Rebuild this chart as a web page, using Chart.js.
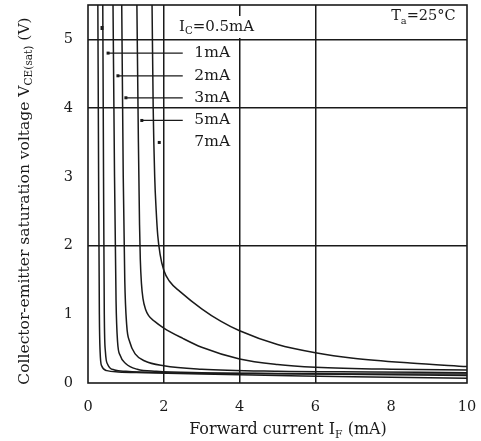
<!DOCTYPE html>
<html>
<head>
<meta charset="utf-8">
<script src="https://cdn.jsdelivr.net/npm/chart.js@4.4.0/dist/chart.umd.min.js"></script>
<style>
html, body { margin: 0; padding: 0; background: #fff; }
#wrap { width: 481px; height: 441px; }
</style>
</head>
<body>
<div id="wrap"><canvas id="c"></canvas></div>
<script>
// axes
const xTicks = [0, 2, 4, 6, 8, 10];
const yTicks = [0, 1, 2, 3, 4, 5];
const xGrid = [2, 4, 6];
const yGrid = [2, 4, 5];

// curves (IF in mA, VCE(sat) in V)
const ic05X = [0.26, 0.28, 0.30, 0.32, 0.36, 0.50, 0.80, 1.5, 3, 5, 7, 10];
const ic05Y = [5.5, 3.0, 1.0, 0.45, 0.25, 0.18, 0.16, 0.15, 0.13, 0.11, 0.09, 0.07];
const ic1X = [0.39, 0.41, 0.43, 0.46, 0.52, 0.70, 1.0, 2, 4, 6, 8, 10];
const ic1Y = [5.5, 3.0, 1.0, 0.45, 0.27, 0.19, 0.17, 0.15, 0.14, 0.13, 0.12, 0.11];
const ic2X = [0.66, 0.70, 0.74, 0.78, 0.85, 1.0, 1.3, 1.8, 3, 5, 7.5, 10];
const ic2Y = [5.5, 3.0, 1.2, 0.6, 0.4, 0.28, 0.2, 0.17, 0.15, 0.14, 0.13, 0.13];
const ic3X = [0.89, 0.93, 0.97, 1.02, 1.10, 1.25, 1.5, 2, 3, 5, 7.5, 10];
const ic3Y = [5.5, 3.0, 1.5, 0.85, 0.6, 0.42, 0.32, 0.25, 0.2, 0.17, 0.16, 0.15];
const ic5X = [1.29, 1.33, 1.36, 1.38, 1.41, 1.45, 1.52, 1.6, 1.75, 2, 2.5, 3, 4, 5, 6, 8, 10];
const ic5Y = [5.5, 3.5, 2.3, 1.8, 1.45, 1.23, 1.07, 0.98, 0.9, 0.8, 0.65, 0.52, 0.35, 0.27, 0.23, 0.2, 0.19];
const ic7X = [1.69, 1.72, 1.76, 1.80, 1.84, 1.90, 2.0, 2.15, 2.43, 3, 3.5, 4, 5, 6, 7, 8.5, 10];
const ic7Y = [5.5, 4.0, 3.0, 2.5, 2.15, 1.88, 1.64, 1.48, 1.33, 1.08, 0.9, 0.76, 0.56, 0.44, 0.36, 0.29, 0.24];

const curveNames = ['0.5mA', '1mA', '2mA', '3mA', '5mA', '7mA'];
const curveXs = [ic05X, ic1X, ic2X, ic3X, ic5X, ic7X];
const curveYs = [ic05Y, ic1Y, ic2Y, ic3Y, ic5Y, ic7Y];

// curve tags with leader lines
const tagText = ['1mA', '2mA', '3mA', '5mA', '7mA'];
const tagY = [4.8, 4.47, 4.15, 3.82, 3.5];
const tagTipX = [0.53, 0.79, 1.0, 1.42, 1.88];
const tagHasLine = [true, true, true, true, false];
const tagLineEndX = 2.5;
const tagTextRightX = 3.75;
const firstTag = { x: 2.4, y: 5.18, tipX: 0.37 };
const tempTag = { x: 9.7, y: 5.33 };

const serif = '"DejaVu Serif", "Liberation Serif", serif';
const ink = '#1a1a1a';

function drawParts(ctx, parts, x, y, size, align) {
    const widths = parts.map(p => {
        ctx.font = (p.sub ? size * 0.68 : size) + 'px ' + serif;
        return ctx.measureText(p.t).width;
    });
    const total = widths.reduce((a, b) => a + b, 0);
    let cx = align === 'center' ? x - total / 2 : align === 'right' ? x - total : x;
    parts.forEach((p, i) => {
        ctx.font = (p.sub ? size * 0.68 : size) + 'px ' + serif;
        ctx.fillText(p.t, cx, p.sub ? y + size * 0.3 : y);
        cx += widths[i];
    });
    return total;
}

const overlay = {
    id: 'overlay',
    afterDraw(chart) {
        const { ctx, chartArea: a, scales: { x, y } } = chart;
        ctx.save();
        ctx.strokeStyle = ink;
        ctx.lineWidth = 1.6;
        ctx.strokeRect(a.left, a.top, a.right - a.left, a.bottom - a.top);

        ctx.fillStyle = ink;
        ctx.textBaseline = 'middle';

        // IC=0.5mA tag with white box
        const fx = x.getPixelForValue(firstTag.x);
        const fy = y.getPixelForValue(firstTag.y);
        ctx.fillStyle = '#fff';
        ctx.fillRect(fx - 4, fy - 11, 90, 22);
        ctx.fillStyle = ink;
        drawParts(ctx, [{ t: 'I' }, { t: 'C', sub: true }, { t: '=0.5mA' }], fx, fy, 15, 'left');
        ctx.fillRect(x.getPixelForValue(firstTag.tipX) - 1.5, fy - 1, 3, 4);

        // other tags
        tagText.forEach((t, i) => {
            const py = y.getPixelForValue(tagY[i]);
            const tip = x.getPixelForValue(tagTipX[i]);
            if (tagHasLine[i]) {
                ctx.beginPath();
                ctx.moveTo(tip, py);
                ctx.lineTo(x.getPixelForValue(tagLineEndX), py);
                ctx.lineWidth = 1.3;
                ctx.stroke();
            }
            ctx.fillRect(tip - 1.5, py - 1.5, 3, 3);
            drawParts(ctx, [{ t: t }], x.getPixelForValue(tagTextRightX), py, 15.5, 'right');
        });

        // Ta=25°C
        drawParts(ctx, [{ t: 'T' }, { t: 'a', sub: true }, { t: '=25°C' }],
            x.getPixelForValue(tempTag.x), y.getPixelForValue(tempTag.y), 14.5, 'right');

        // axis titles
        drawParts(ctx, [{ t: 'Forward current I' }, { t: 'F', sub: true }, { t: ' (mA)' }],
            288, 430, 16, 'center');
        ctx.translate(25, 201);
        ctx.rotate(-Math.PI / 2);
        drawParts(ctx, [{ t: 'Collector-emitter saturation voltage V' }, { t: 'CE(sat)', sub: true }, { t: ' (V)' }],
            0, 0, 15.5, 'center');
        ctx.restore();
    }
};

const datasets = curveNames.map((name, i) => ({
    label: 'IC=' + name,
    data: curveXs[i].map((v, j) => ({ x: v, y: curveYs[i][j] })),
    borderColor: ink,
    borderWidth: 1.5,
    pointRadius: 0,
    fill: false,
    cubicInterpolationMode: 'monotone'
}));

new Chart(document.getElementById('c'), {
    type: 'line',
    data: { datasets: datasets },
    plugins: [overlay],
    options: {
        responsive: true,
        maintainAspectRatio: false,
        animation: false,
        layout: { padding: { left: 0, top: 5, right: 14, bottom: 0 } },
        plugins: { legend: { display: false }, tooltip: { enabled: false } },
        scales: {
            x: {
                type: 'linear',
                min: 0,
                max: 10,
                afterBuildTicks: s => { s.ticks = xTicks.map(v => ({ value: v })); },
                afterFit: s => { s.height = 58; s.paddingLeft = 0; s.paddingRight = 0; },
                border: { display: false },
                grid: {
                    drawTicks: false,
                    lineWidth: 1.5,
                    color: c => xGrid.includes(c.tick.value) ? ink : 'rgba(0,0,0,0)'
                },
                ticks: { padding: 16, color: ink, font: { family: serif, size: 14.5 } }
            },
            y: {
                type: 'linear',
                min: 0,
                max: 5.5,
                afterBuildTicks: s => { s.ticks = yTicks.map(v => ({ value: v })); },
                afterFit: s => { s.width = 88; s.paddingTop = 0; s.paddingBottom = 0; },
                border: { display: false },
                grid: {
                    drawTicks: false,
                    lineWidth: 1.5,
                    color: c => yGrid.includes(c.tick.value) ? ink : 'rgba(0,0,0,0)'
                },
                ticks: { padding: 15, color: ink, font: { family: serif, size: 14.5 } }
            }
        }
    }
});
</script>
</body>
</html>
